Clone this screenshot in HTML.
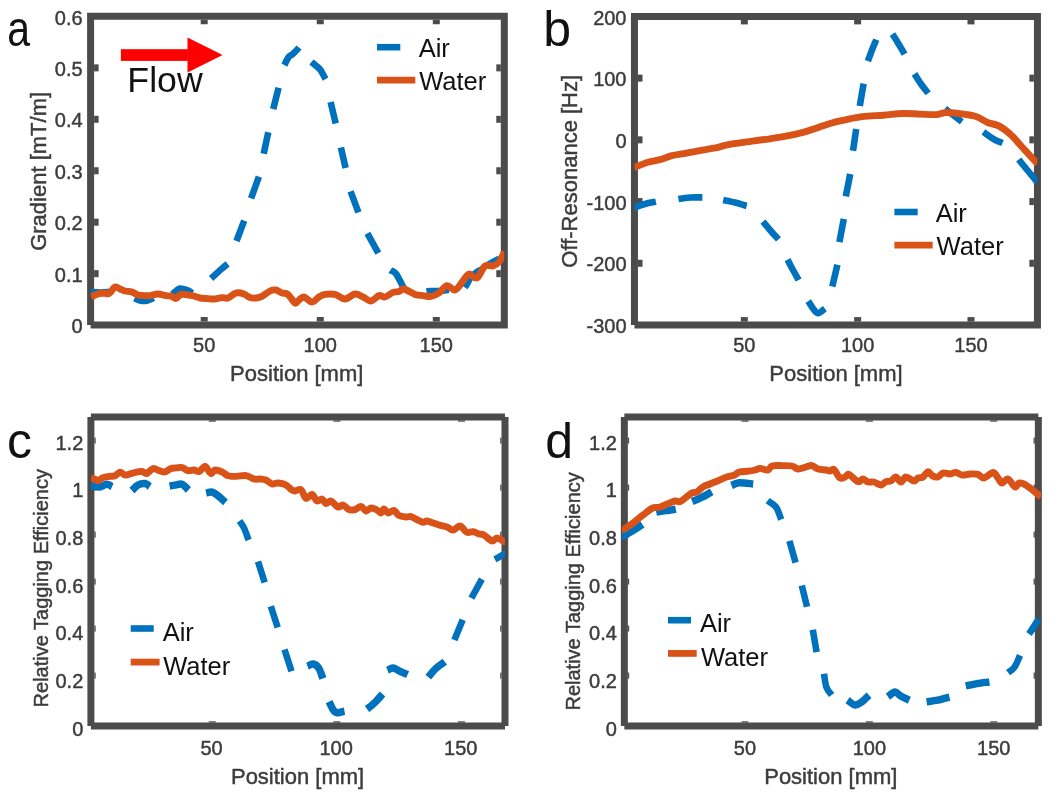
<!DOCTYPE html>
<html><head><meta charset="utf-8"><style>
html,body{margin:0;padding:0;background:#fff;}
svg{display:block;font-family:"Liberation Sans",sans-serif;will-change:transform;}
</style></head><body>
<svg width="1050" height="796" viewBox="0 0 1050 796">
<rect width="1050" height="796" fill="#fff"/>
<path d="M90.60,325.00 L90.60,16.25 L504.30,16.25 L504.30,325.00 L90.60,325.00" fill="none" stroke="#4b4b4b" stroke-width="7" stroke-linejoin="miter" stroke-linecap="butt"/>
<rect x="94.10" y="270.15" width="4.5" height="7" fill="#4b4b4b"/>
<rect x="496.30" y="270.15" width="4.5" height="7" fill="#4b4b4b"/>
<rect x="94.10" y="218.70" width="4.5" height="7" fill="#4b4b4b"/>
<rect x="496.30" y="218.70" width="4.5" height="7" fill="#4b4b4b"/>
<rect x="94.10" y="167.25" width="4.5" height="7" fill="#4b4b4b"/>
<rect x="496.30" y="167.25" width="4.5" height="7" fill="#4b4b4b"/>
<rect x="94.10" y="115.80" width="4.5" height="7" fill="#4b4b4b"/>
<rect x="496.30" y="115.80" width="4.5" height="7" fill="#4b4b4b"/>
<rect x="94.10" y="64.35" width="4.5" height="7" fill="#4b4b4b"/>
<rect x="496.30" y="64.35" width="4.5" height="7" fill="#4b4b4b"/>
<rect x="200.70" y="19.75" width="7" height="4.5" fill="#4b4b4b"/>
<rect x="200.70" y="317.00" width="7" height="4.5" fill="#4b4b4b"/>
<rect x="316.75" y="19.75" width="7" height="4.5" fill="#4b4b4b"/>
<rect x="316.75" y="317.00" width="7" height="4.5" fill="#4b4b4b"/>
<rect x="432.80" y="19.75" width="7" height="4.5" fill="#4b4b4b"/>
<rect x="432.80" y="317.00" width="7" height="4.5" fill="#4b4b4b"/>
<clipPath id="c1"><rect x="90.60" y="16.25" width="413.70" height="308.75"/></clipPath><g clip-path="url(#c1)">
<path d="M90.5,292.0 C92.1,292.1 96.8,292.5 100.0,292.5 C103.2,292.5 107.9,292.1 110.0,292.0 C112.1,291.9 112.1,291.8 112.5,291.8 M134.5,298.3 C135.4,298.7 138.3,300.1 140.0,300.5 C141.7,300.9 143.3,301.2 145.0,301.0 C146.7,300.8 148.6,300.0 150.0,299.5 C151.4,299.0 152.9,298.1 153.4,297.8 M172.1,294.3 C172.8,293.8 174.7,292.0 176.0,291.0 C177.3,290.0 178.5,288.8 180.0,288.5 C181.5,288.2 183.5,289.1 185.0,289.5 C186.5,289.9 187.8,290.4 189.0,291.0 C190.2,291.6 191.8,292.9 192.4,293.3 M211.1,278.5 C212.8,277.0 218.3,271.8 221.0,269.4 C223.7,267.0 226.5,264.8 227.6,263.9 M236.5,241.0 L244.2,220.7 M251.1,198.3 L258.9,176.7 M263.7,153.8 L268.3,132.3 M273.2,109.1 L278.6,87.7 M284.4,65.1 C285.1,63.8 287.1,59.0 288.6,57.1 C290.1,55.2 291.5,55.2 293.2,53.6 C294.9,52.0 298.1,48.6 299.0,47.5 M311.4,61.9 C312.7,63.0 317.6,67.0 319.3,68.7 C321.0,70.4 320.8,70.5 321.8,72.2 C322.8,73.9 324.9,78.0 325.5,79.1 M330.6,102.1 L335.7,123.4 M340.9,147.5 L345.6,168.0 M350.6,191.4 L358.4,212.3 M367.4,233.4 L378.3,253.1 M390.3,270.2 C391.2,270.8 393.9,271.1 395.9,273.6 C397.9,276.1 400.8,282.6 402.2,285.1 C403.6,287.6 403.9,287.9 404.3,288.4 M426.5,291.6 C427.1,291.5 427.8,291.1 430.0,291.0 C432.2,290.9 436.8,291.2 440.0,291.0 C443.2,290.8 447.5,289.9 449.0,289.7 M464.7,287.4 C465.1,286.8 466.0,285.7 467.0,284.0 C468.0,282.3 469.3,279.0 471.0,277.0 C472.7,275.0 474.9,273.4 477.0,272.0 C479.1,270.6 482.4,269.3 483.4,268.8 M487.6,265.3 C488.6,264.6 492.0,262.6 494.0,261.5 C496.0,260.4 498.5,259.2 499.4,258.8" fill="none" stroke="#0072bd" stroke-width="6.6" stroke-linejoin="round" stroke-linecap="butt"/>
<path d="M91.0,297.0 C91.2,296.9 90.8,297.1 92.0,296.6 C93.2,296.1 96.0,294.6 98.0,294.0 C100.0,293.4 102.2,293.1 104.0,293.0 C105.8,292.9 107.2,294.6 109.0,293.6 C110.8,292.6 113.2,287.8 115.0,287.0 C116.8,286.2 118.3,288.3 120.0,289.0 C121.7,289.7 123.0,290.5 125.0,291.0 C127.0,291.5 129.8,291.3 132.0,292.0 C134.2,292.7 136.0,294.4 138.0,295.0 C140.0,295.6 142.0,295.5 144.0,295.6 C146.0,295.7 147.7,295.9 150.0,295.6 C152.3,295.3 155.3,294.0 158.0,294.0 C160.7,294.0 163.7,295.2 166.0,295.6 C168.3,296.0 170.3,295.9 172.0,296.4 C173.7,296.9 174.5,298.7 176.0,298.4 C177.5,298.1 179.0,295.0 181.0,294.4 C183.0,293.8 185.8,294.7 188.0,295.0 C190.2,295.3 192.0,295.5 194.0,296.0 C196.0,296.5 197.7,297.6 200.0,298.0 C202.3,298.4 205.7,298.4 208.0,298.6 C210.3,298.8 211.7,299.2 214.0,299.0 C216.3,298.8 219.7,297.8 222.0,297.6 C224.3,297.4 225.7,298.8 228.0,298.0 C230.3,297.2 233.3,293.7 236.0,293.0 C238.7,292.3 241.7,293.2 244.0,294.0 C246.3,294.8 248.0,296.9 250.0,297.6 C252.0,298.3 254.0,298.2 256.0,298.0 C258.0,297.8 259.7,297.6 262.0,296.4 C264.3,295.2 267.7,292.1 270.0,291.0 C272.3,289.9 274.0,289.7 276.0,290.0 C278.0,290.3 280.0,292.3 282.0,293.0 C284.0,293.7 285.8,292.7 288.0,294.4 C290.2,296.1 293.2,302.1 295.0,303.0 C296.8,303.9 297.5,301.0 299.0,300.0 C300.5,299.0 301.8,296.7 304.0,297.0 C306.2,297.3 309.5,302.0 312.0,302.0 C314.5,302.0 316.8,298.3 319.0,297.0 C321.2,295.7 322.3,294.8 325.0,294.4 C327.7,294.0 331.7,293.6 335.0,294.4 C338.3,295.2 341.7,299.1 345.0,299.0 C348.3,298.9 352.0,294.3 355.0,294.0 C358.0,293.7 360.3,295.8 363.0,297.0 C365.7,298.2 368.3,301.2 371.0,301.0 C373.7,300.8 376.7,296.3 379.0,295.6 C381.3,294.9 382.7,297.5 385.0,297.0 C387.3,296.5 390.7,293.3 393.0,292.4 C395.3,291.5 397.2,292.2 399.0,291.6 C400.8,291.0 401.3,288.5 404.0,289.0 C406.7,289.5 411.8,293.3 415.0,294.4 C418.2,295.5 420.3,295.3 423.0,295.6 C425.7,295.9 428.3,296.8 431.0,296.4 C433.7,296.0 436.3,294.8 439.0,293.0 C441.7,291.2 444.3,286.1 447.0,285.6 C449.7,285.1 452.3,290.8 455.0,290.0 C457.7,289.2 460.7,283.7 463.0,281.0 C465.3,278.3 466.7,274.5 469.0,274.0 C471.3,273.5 474.3,279.3 477.0,278.0 C479.7,276.7 482.3,268.0 485.0,266.0 C487.7,264.0 490.7,266.7 493.0,266.0 C495.3,265.3 497.3,263.8 499.0,262.0 C500.7,260.2 502.0,256.7 503.0,255.0 C504.0,253.3 504.7,252.5 505.0,252.0" fill="none" stroke="#d95319" stroke-width="6.9" stroke-linejoin="round" stroke-linecap="butt"/>
</g>
<text x="82.60" y="333.20" font-size="20" fill="#3c3c3c" text-anchor="end" stroke="#3c3c3c" stroke-width="0.45">0</text>
<text x="82.60" y="281.75" font-size="20" fill="#3c3c3c" text-anchor="end" stroke="#3c3c3c" stroke-width="0.45">0.1</text>
<text x="82.60" y="230.30" font-size="20" fill="#3c3c3c" text-anchor="end" stroke="#3c3c3c" stroke-width="0.45">0.2</text>
<text x="82.60" y="178.85" font-size="20" fill="#3c3c3c" text-anchor="end" stroke="#3c3c3c" stroke-width="0.45">0.3</text>
<text x="82.60" y="127.40" font-size="20" fill="#3c3c3c" text-anchor="end" stroke="#3c3c3c" stroke-width="0.45">0.4</text>
<text x="82.60" y="75.95" font-size="20" fill="#3c3c3c" text-anchor="end" stroke="#3c3c3c" stroke-width="0.45">0.5</text>
<text x="82.60" y="24.50" font-size="20" fill="#3c3c3c" text-anchor="end" stroke="#3c3c3c" stroke-width="0.45">0.6</text>
<text x="204.20" y="352.20" font-size="20" fill="#3c3c3c" text-anchor="middle" stroke="#3c3c3c" stroke-width="0.45">50</text>
<text x="320.25" y="352.20" font-size="20" fill="#3c3c3c" text-anchor="middle" stroke="#3c3c3c" stroke-width="0.45">100</text>
<text x="436.30" y="352.20" font-size="20" fill="#3c3c3c" text-anchor="middle" stroke="#3c3c3c" stroke-width="0.45">150</text>
<text x="296.75" y="380.70" font-size="22" fill="#3c3c3c" text-anchor="middle" stroke="#3c3c3c" stroke-width="0.45">Position [mm]</text>
<text transform="translate(45.60,171.40) rotate(-90)" x="0" y="0" font-size="22" fill="#3c3c3c" stroke="#3c3c3c" stroke-width="0.45" text-anchor="middle">Gradient [mT/m]</text>
<path d="M377.0,47.2 L400.3,47.2" fill="none" stroke="#0072bd" stroke-width="6.6" stroke-linejoin="round" stroke-linecap="butt"/>
<path d="M377.0,80.2 L415.3,80.2" fill="none" stroke="#d95319" stroke-width="6.8" stroke-linejoin="round" stroke-linecap="butt"/>
<text x="418.65" y="57.00" font-size="25.5" fill="#111" text-anchor="start" >Air</text>
<text x="419.20" y="90.00" font-size="25.5" fill="#111" text-anchor="start" >Water</text>
<rect x="120.9" y="49.2" width="67" height="11.7" fill="#ff0000"/>
<polygon points="187.5,37.4 187.5,72.5 222.6,54.9" fill="#ff0000"/>
<text x="127.37" y="92.30" font-size="35.7" fill="#111" text-anchor="start" >Flow</text>
<text transform="translate(7.3,45.5) scale(0.82,1)" x="0" y="0" font-size="50" fill="#111">a</text>
<path d="M634.45,325.10 L634.45,16.40 L1037.45,16.40 L1037.45,325.10 L634.45,325.10" fill="none" stroke="#4b4b4b" stroke-width="7" stroke-linejoin="miter" stroke-linecap="butt"/>
<rect x="638.00" y="74.62" width="4.5" height="7" fill="#4b4b4b"/>
<rect x="1029.40" y="74.62" width="4.5" height="7" fill="#4b4b4b"/>
<rect x="638.00" y="136.34" width="4.5" height="7" fill="#4b4b4b"/>
<rect x="1029.40" y="136.34" width="4.5" height="7" fill="#4b4b4b"/>
<rect x="638.00" y="198.06" width="4.5" height="7" fill="#4b4b4b"/>
<rect x="1029.40" y="198.06" width="4.5" height="7" fill="#4b4b4b"/>
<rect x="638.00" y="259.78" width="4.5" height="7" fill="#4b4b4b"/>
<rect x="1029.40" y="259.78" width="4.5" height="7" fill="#4b4b4b"/>
<rect x="740.83" y="19.90" width="7" height="4.5" fill="#4b4b4b"/>
<rect x="740.83" y="317.10" width="7" height="4.5" fill="#4b4b4b"/>
<rect x="854.15" y="19.90" width="7" height="4.5" fill="#4b4b4b"/>
<rect x="854.15" y="317.10" width="7" height="4.5" fill="#4b4b4b"/>
<rect x="967.48" y="19.90" width="7" height="4.5" fill="#4b4b4b"/>
<rect x="967.48" y="317.10" width="7" height="4.5" fill="#4b4b4b"/>
<clipPath id="c2"><rect x="634.45" y="16.40" width="403.00" height="308.70"/></clipPath><g clip-path="url(#c2)">
<path d="M633.5,207.8 C635.4,207.1 641.3,205.0 645.0,204.0 C648.7,203.0 654.1,202.0 655.9,201.6 M678.4,199.0 C680.3,198.7 686.0,197.8 690.0,197.5 C694.0,197.2 700.3,197.4 702.4,197.4 M723.2,200.1 C725.2,200.5 731.1,201.5 735.0,202.5 C738.9,203.5 744.7,205.5 746.7,206.0 M762.9,221.6 C764.1,223.0 767.4,227.0 770.0,230.0 C772.6,233.0 777.1,237.8 778.5,239.4 M787.6,259.6 C788.5,261.3 791.1,266.6 793.0,270.0 C794.9,273.4 797.8,278.4 798.7,280.0 M808.2,301.1 C809.0,302.3 811.4,306.5 813.0,308.5 C814.6,310.5 816.1,313.2 818.1,313.2 C820.1,313.2 823.8,309.4 824.9,308.6 M832.3,286.6 L837.4,264.7 M839.4,242.2 L843.8,218.8 M845.8,196.4 L850.2,174.0 M853.0,150.8 L856.2,128.9 M859.8,106.0 L863.6,83.6 M867.9,61.2 C868.6,59.3 870.6,53.6 872.0,50.0 C873.4,46.4 875.6,41.4 876.3,39.6 M892.4,34.2 C893.4,35.6 896.0,39.7 898.0,43.0 C900.0,46.3 903.5,52.3 904.6,54.1 M914.5,73.9 C915.6,75.6 918.7,80.8 921.0,84.0 C923.3,87.2 927.0,91.7 928.2,93.3 M945.0,108.4 C946.3,109.5 950.2,112.8 953.0,115.0 C955.8,117.2 960.3,120.7 961.8,121.8 M983.4,131.9 C985.2,133.2 991.3,137.8 994.5,139.6 C997.7,141.4 1001.1,142.4 1002.5,143.0 M1018.7,159.5 C1019.9,161.0 1023.6,165.6 1026.0,168.5 C1028.4,171.4 1031.1,174.7 1033.0,177.0 C1034.9,179.3 1036.6,181.5 1037.3,182.4" fill="none" stroke="#0072bd" stroke-width="6.6" stroke-linejoin="round" stroke-linecap="butt"/>
<path d="M634.0,167.4 C634.3,167.3 633.7,167.7 636.0,166.8 C638.3,165.9 644.0,163.4 648.0,162.2 C652.0,161.0 656.0,160.7 660.0,159.6 C664.0,158.5 668.0,156.6 672.0,155.6 C676.0,154.6 679.7,154.4 684.0,153.6 C688.3,152.8 693.0,151.7 698.0,150.8 C703.0,149.9 709.3,149.1 714.0,148.2 C718.7,147.3 722.0,146.0 726.0,145.2 C730.0,144.4 733.3,143.9 738.0,143.2 C742.7,142.5 748.7,141.5 754.0,140.8 C759.3,140.1 764.7,139.6 770.0,138.8 C775.3,138.0 780.3,137.3 786.0,136.2 C791.7,135.1 798.7,133.6 804.0,132.2 C809.3,130.8 813.7,129.0 818.0,127.6 C822.3,126.1 825.5,124.8 830.0,123.5 C834.5,122.2 839.7,121.0 845.0,119.9 C850.3,118.8 855.6,117.5 862.0,116.7 C868.4,115.9 876.6,115.7 883.4,115.2 C890.2,114.7 896.5,113.7 902.6,113.5 C908.7,113.3 914.0,113.9 919.7,114.1 C925.4,114.3 932.5,114.8 936.8,114.6 C941.1,114.3 941.8,112.8 945.4,112.6 C949.0,112.4 953.2,112.9 958.2,113.5 C963.2,114.1 970.3,114.8 975.3,116.3 C980.3,117.8 984.2,121.1 988.1,122.7 C992.0,124.3 994.9,123.8 998.8,125.9 C1002.7,128.0 1007.7,131.9 1011.6,135.5 C1015.5,139.1 1018.4,142.9 1022.3,147.2 C1026.2,151.5 1032.6,158.3 1035.1,161.1 C1037.6,163.8 1037.1,163.3 1037.5,163.7" fill="none" stroke="#d95319" stroke-width="6.9" stroke-linejoin="round" stroke-linecap="butt"/>
</g>
<text x="626.50" y="24.50" font-size="20" fill="#3c3c3c" text-anchor="end" stroke="#3c3c3c" stroke-width="0.45">200</text>
<text x="626.50" y="86.22" font-size="20" fill="#3c3c3c" text-anchor="end" stroke="#3c3c3c" stroke-width="0.45">100</text>
<text x="626.50" y="147.94" font-size="20" fill="#3c3c3c" text-anchor="end" stroke="#3c3c3c" stroke-width="0.45">0</text>
<text x="626.50" y="209.66" font-size="20" fill="#3c3c3c" text-anchor="end" stroke="#3c3c3c" stroke-width="0.45">-100</text>
<text x="626.50" y="271.38" font-size="20" fill="#3c3c3c" text-anchor="end" stroke="#3c3c3c" stroke-width="0.45">-200</text>
<text x="626.50" y="333.10" font-size="20" fill="#3c3c3c" text-anchor="end" stroke="#3c3c3c" stroke-width="0.45">-300</text>
<text x="744.33" y="352.20" font-size="20" fill="#3c3c3c" text-anchor="middle" stroke="#3c3c3c" stroke-width="0.45">50</text>
<text x="857.65" y="352.20" font-size="20" fill="#3c3c3c" text-anchor="middle" stroke="#3c3c3c" stroke-width="0.45">100</text>
<text x="970.98" y="352.20" font-size="20" fill="#3c3c3c" text-anchor="middle" stroke="#3c3c3c" stroke-width="0.45">150</text>
<text x="836.00" y="380.70" font-size="22" fill="#3c3c3c" text-anchor="middle" stroke="#3c3c3c" stroke-width="0.45">Position [mm]</text>
<text transform="translate(576.90,171.30) rotate(-90)" x="0" y="0" font-size="22" fill="#3c3c3c" stroke="#3c3c3c" stroke-width="0.45" text-anchor="middle">Off-Resonance [Hz]</text>
<path d="M894.4,212.0 L917.7,212.0" fill="none" stroke="#0072bd" stroke-width="6.6" stroke-linejoin="round" stroke-linecap="butt"/>
<path d="M894.4,245.2 L932.7,245.2" fill="none" stroke="#d95319" stroke-width="6.8" stroke-linejoin="round" stroke-linecap="butt"/>
<text x="935.65" y="222.00" font-size="25.5" fill="#111" text-anchor="start" >Air</text>
<text x="936.60" y="255.00" font-size="25.5" fill="#111" text-anchor="start" >Water</text>
<text x="543.2" y="45.9" font-size="50" fill="#111">b</text>
<line x1="90.90" y1="416.90" x2="505.00" y2="416.90" stroke="#4b4b4b" stroke-width="7" stroke-linecap="butt"/>
<line x1="90.90" y1="726.10" x2="505.00" y2="726.10" stroke="#4b4b4b" stroke-width="7" stroke-linecap="butt"/>
<line x1="90.90" y1="416.90" x2="90.90" y2="726.10" stroke="#4b4b4b" stroke-width="7" stroke-linecap="butt"/>
<line x1="505.00" y1="416.90" x2="505.00" y2="726.10" stroke="#4b4b4b" stroke-width="7" stroke-linecap="butt"/>
<rect x="94.40" y="437.60" width="1.3" height="6" fill="#4b4b4b"/>
<rect x="500.20" y="437.60" width="1.3" height="6" fill="#4b4b4b"/>
<rect x="94.40" y="484.60" width="1.3" height="6" fill="#4b4b4b"/>
<rect x="500.20" y="484.60" width="1.3" height="6" fill="#4b4b4b"/>
<rect x="94.40" y="531.60" width="1.3" height="6" fill="#4b4b4b"/>
<rect x="500.20" y="531.60" width="1.3" height="6" fill="#4b4b4b"/>
<rect x="94.40" y="578.60" width="1.3" height="6" fill="#4b4b4b"/>
<rect x="500.20" y="578.60" width="1.3" height="6" fill="#4b4b4b"/>
<rect x="94.40" y="625.60" width="1.3" height="6" fill="#4b4b4b"/>
<rect x="500.20" y="625.60" width="1.3" height="6" fill="#4b4b4b"/>
<rect x="94.40" y="672.60" width="1.3" height="6" fill="#4b4b4b"/>
<rect x="500.20" y="672.60" width="1.3" height="6" fill="#4b4b4b"/>
<rect x="208.80" y="420.40" width="7" height="1.3" fill="#4b4b4b"/>
<rect x="208.80" y="721.30" width="7" height="1.3" fill="#4b4b4b"/>
<rect x="333.40" y="420.40" width="7" height="1.3" fill="#4b4b4b"/>
<rect x="333.40" y="721.30" width="7" height="1.3" fill="#4b4b4b"/>
<rect x="458.00" y="420.40" width="7" height="1.3" fill="#4b4b4b"/>
<rect x="458.00" y="721.30" width="7" height="1.3" fill="#4b4b4b"/>
<clipPath id="c3"><rect x="90.90" y="416.90" width="414.10" height="309.20"/></clipPath><g clip-path="url(#c3)">
<path d="M90.4,485.6 C91.9,485.9 96.7,487.3 99.4,487.1 C102.1,486.9 104.5,484.4 106.6,484.3 C108.7,484.2 111.2,486.2 112.1,486.6 M131.9,490.6 C132.9,489.7 135.8,486.2 138.0,485.0 C140.2,483.8 143.1,483.3 145.1,483.5 C147.1,483.7 149.0,486.0 149.8,486.5 M169.6,486.1 C170.8,485.9 174.5,485.1 176.6,484.8 C178.7,484.5 180.3,483.4 182.3,484.3 C184.3,485.2 187.4,489.0 188.4,489.9 M206.1,493.0 C207.1,492.8 210.3,491.6 212.3,492.1 C214.3,492.6 215.8,494.0 218.0,495.7 C220.2,497.4 224.2,501.3 225.5,502.4 M307.5,666.2 C308.5,665.8 311.4,663.7 313.3,664.0 C315.2,664.3 317.1,665.6 318.7,668.0 C320.3,670.4 322.2,676.7 322.9,678.5 M329.1,701.6 C329.8,703.0 331.9,708.1 333.3,710.0 C334.7,711.9 335.4,712.5 337.3,712.7 C339.2,712.9 343.3,711.4 344.5,711.2 M367.0,709.0 C367.7,708.5 369.4,707.4 371.0,706.0 C372.6,704.6 374.7,702.7 376.6,700.7 C378.5,698.7 381.6,695.1 382.6,694.0 M387.5,670.2 C388.5,669.8 391.2,667.8 393.3,668.0 C395.4,668.2 397.6,670.2 400.0,671.3 C402.4,672.4 406.3,674.1 407.6,674.7 M428.3,677.2 C429.5,675.8 432.6,671.5 435.4,668.9 C438.2,666.3 443.2,663.0 444.8,661.8" fill="none" stroke="#0072bd" stroke-width="7.4" stroke-linejoin="round" stroke-linecap="butt"/>
<path d="M239.6,520.8 C240.4,522.0 242.6,525.0 244.1,528.2 C245.6,531.4 247.8,538.0 248.6,540.0 M258.0,561.6 L264.7,582.4 M270.8,606.3 L277.7,627.6 M284.5,649.5 L291.5,671.2 M454.4,640.0 L462.7,619.8 M471.4,598.1 L481.9,579.2 M494.9,559.4 C496.3,558.7 501.3,555.7 503.2,554.7 C505.1,553.7 505.9,553.5 506.5,553.3" fill="none" stroke="#0072bd" stroke-width="6.6" stroke-linejoin="round" stroke-linecap="butt"/>
<path d="M90.9,477.9 C91.6,478.1 93.8,478.8 95.1,479.3 C96.4,479.8 97.5,480.9 98.7,480.7 C99.9,480.5 100.5,478.6 102.3,477.9 C104.1,477.2 107.3,476.8 109.4,476.4 C111.5,476.0 113.3,476.4 115.1,475.7 C116.9,475.0 118.4,472.2 120.1,472.1 C121.8,472.0 123.3,474.8 125.1,475.0 C126.9,475.2 129.0,474.1 130.9,473.6 C132.8,473.1 134.7,472.5 136.6,472.1 C138.5,471.7 140.6,471.1 142.3,471.4 C144.0,471.6 144.8,474.1 146.6,473.6 C148.4,473.1 150.9,469.1 153.0,468.6 C155.1,468.1 157.4,470.1 159.4,470.7 C161.4,471.2 163.2,472.2 165.1,471.9 C167.0,471.5 169.0,469.3 170.9,468.6 C172.8,467.9 174.7,468.1 176.6,467.9 C178.5,467.7 180.4,467.1 182.3,467.6 C184.2,468.1 186.1,470.3 188.0,470.7 C189.9,471.1 191.8,469.9 193.7,470.0 C195.6,470.1 197.5,472.0 199.4,471.4 C201.3,470.8 203.2,466.0 205.1,466.4 C207.0,466.8 209.2,473.0 210.9,473.6 C212.6,474.2 213.2,470.2 215.1,470.0 C217.0,469.8 220.2,471.2 222.3,472.1 C224.5,473.1 225.6,475.0 228.0,475.7 C230.4,476.4 233.6,476.4 236.6,476.4 C239.6,476.4 243.1,475.2 246.0,475.6 C248.9,476.0 251.7,478.4 254.0,479.0 C256.3,479.6 258.0,478.8 260.0,479.0 C262.0,479.2 264.0,479.2 266.0,480.0 C268.0,480.8 270.0,483.5 272.0,484.0 C274.0,484.5 275.7,482.8 278.0,483.0 C280.3,483.2 283.7,483.8 286.0,485.0 C288.3,486.2 290.5,489.0 292.0,490.0 C293.5,491.0 293.5,491.1 295.0,491.0 C296.5,490.9 299.2,488.4 301.0,489.6 C302.8,490.8 304.2,497.6 306.0,498.4 C307.8,499.2 310.2,494.0 312.0,494.4 C313.8,494.8 315.3,500.2 317.0,501.0 C318.7,501.8 320.5,498.6 322.0,499.0 C323.5,499.4 324.5,503.3 326.0,503.6 C327.5,503.9 329.0,500.4 331.0,501.0 C333.0,501.6 336.0,506.3 338.0,507.0 C340.0,507.7 341.2,504.6 343.0,505.0 C344.8,505.4 347.0,508.8 349.0,509.6 C351.0,510.4 353.0,510.1 355.0,509.6 C357.0,509.1 359.2,506.2 361.0,506.4 C362.8,506.6 364.3,510.7 366.0,511.0 C367.7,511.3 369.2,508.2 371.0,508.0 C372.8,507.8 375.3,509.2 377.0,510.0 C378.7,510.8 379.8,513.2 381.0,513.0 C382.2,512.8 382.8,509.0 384.0,509.0 C385.2,509.0 386.3,512.8 388.0,513.0 C389.7,513.2 392.2,510.0 394.0,510.4 C395.8,510.8 397.0,514.5 399.0,515.6 C401.0,516.7 404.0,516.8 406.0,517.0 C408.0,517.2 409.2,516.2 411.0,516.6 C412.8,517.0 415.0,518.6 417.0,519.6 C419.0,520.6 421.3,522.2 423.0,522.4 C424.7,522.6 425.3,520.9 427.0,521.0 C428.7,521.1 431.0,522.3 433.0,523.0 C435.0,523.7 436.7,524.3 439.0,525.0 C441.3,525.7 444.7,526.2 447.0,527.0 C449.3,527.8 450.8,530.2 453.0,530.0 C455.2,529.8 457.7,525.6 460.0,526.0 C462.3,526.4 464.8,531.5 467.0,532.4 C469.2,533.3 471.0,531.3 473.0,531.6 C475.0,531.9 477.2,533.4 479.0,534.0 C480.8,534.6 481.8,533.8 484.0,535.0 C486.2,536.2 489.8,540.5 492.0,541.0 C494.2,541.5 495.2,538.0 497.0,538.0 C498.8,538.0 501.5,540.3 503.0,541.0 C504.5,541.7 505.5,541.8 506.0,542.0" fill="none" stroke="#d95319" stroke-width="6.9" stroke-linejoin="round" stroke-linecap="butt"/>
</g>
<text x="83.30" y="735.70" font-size="20" fill="#3c3c3c" text-anchor="end" stroke="#3c3c3c" stroke-width="0.45">0</text>
<text x="83.30" y="688.04" font-size="20" fill="#3c3c3c" text-anchor="end" stroke="#3c3c3c" stroke-width="0.45">0.2</text>
<text x="83.30" y="640.38" font-size="20" fill="#3c3c3c" text-anchor="end" stroke="#3c3c3c" stroke-width="0.45">0.4</text>
<text x="83.30" y="592.72" font-size="20" fill="#3c3c3c" text-anchor="end" stroke="#3c3c3c" stroke-width="0.45">0.6</text>
<text x="83.30" y="545.06" font-size="20" fill="#3c3c3c" text-anchor="end" stroke="#3c3c3c" stroke-width="0.45">0.8</text>
<text x="83.30" y="497.40" font-size="20" fill="#3c3c3c" text-anchor="end" stroke="#3c3c3c" stroke-width="0.45">1</text>
<text x="83.30" y="449.74" font-size="20" fill="#3c3c3c" text-anchor="end" stroke="#3c3c3c" stroke-width="0.45">1.2</text>
<text x="211.60" y="754.80" font-size="20" fill="#3c3c3c" text-anchor="middle" stroke="#3c3c3c" stroke-width="0.45">50</text>
<text x="336.20" y="754.80" font-size="20" fill="#3c3c3c" text-anchor="middle" stroke="#3c3c3c" stroke-width="0.45">100</text>
<text x="460.80" y="754.80" font-size="20" fill="#3c3c3c" text-anchor="middle" stroke="#3c3c3c" stroke-width="0.45">150</text>
<text x="297.60" y="783.60" font-size="22" fill="#3c3c3c" text-anchor="middle" stroke="#3c3c3c" stroke-width="0.45">Position [mm]</text>
<text transform="translate(48.40,588.25) rotate(-90)" x="0" y="0" font-size="20" fill="#3c3c3c" stroke="#3c3c3c" stroke-width="0.45" text-anchor="middle">Relative Tagging Efficiency</text>
<path d="M130.7,628.5 L153.7,628.5" fill="none" stroke="#0072bd" stroke-width="6.6" stroke-linejoin="round" stroke-linecap="butt"/>
<path d="M130.7,662.1 L159.6,662.1" fill="none" stroke="#d95319" stroke-width="6.8" stroke-linejoin="round" stroke-linecap="butt"/>
<text x="162.65" y="641.30" font-size="25.5" fill="#111" text-anchor="start" >Air</text>
<text x="163.20" y="674.70" font-size="25.5" fill="#111" text-anchor="start" >Water</text>
<text x="6.9" y="458.4" font-size="50" fill="#111">c</text>
<line x1="624.35" y1="416.90" x2="1038.35" y2="416.90" stroke="#4b4b4b" stroke-width="7" stroke-linecap="butt"/>
<line x1="624.35" y1="726.10" x2="1038.35" y2="726.10" stroke="#4b4b4b" stroke-width="7" stroke-linecap="butt"/>
<line x1="624.35" y1="416.90" x2="624.35" y2="726.10" stroke="#4b4b4b" stroke-width="7" stroke-linecap="butt"/>
<line x1="1038.35" y1="416.90" x2="1038.35" y2="726.10" stroke="#4b4b4b" stroke-width="7" stroke-linecap="butt"/>
<rect x="627.85" y="437.60" width="1.3" height="6" fill="#4b4b4b"/>
<rect x="1033.55" y="437.60" width="1.3" height="6" fill="#4b4b4b"/>
<rect x="627.85" y="484.60" width="1.3" height="6" fill="#4b4b4b"/>
<rect x="1033.55" y="484.60" width="1.3" height="6" fill="#4b4b4b"/>
<rect x="627.85" y="531.60" width="1.3" height="6" fill="#4b4b4b"/>
<rect x="1033.55" y="531.60" width="1.3" height="6" fill="#4b4b4b"/>
<rect x="627.85" y="578.60" width="1.3" height="6" fill="#4b4b4b"/>
<rect x="1033.55" y="578.60" width="1.3" height="6" fill="#4b4b4b"/>
<rect x="627.85" y="625.60" width="1.3" height="6" fill="#4b4b4b"/>
<rect x="1033.55" y="625.60" width="1.3" height="6" fill="#4b4b4b"/>
<rect x="627.85" y="672.60" width="1.3" height="6" fill="#4b4b4b"/>
<rect x="1033.55" y="672.60" width="1.3" height="6" fill="#4b4b4b"/>
<rect x="741.50" y="420.40" width="7" height="1.3" fill="#4b4b4b"/>
<rect x="741.50" y="721.30" width="7" height="1.3" fill="#4b4b4b"/>
<rect x="865.90" y="420.40" width="7" height="1.3" fill="#4b4b4b"/>
<rect x="865.90" y="721.30" width="7" height="1.3" fill="#4b4b4b"/>
<rect x="990.20" y="420.40" width="7" height="1.3" fill="#4b4b4b"/>
<rect x="990.20" y="721.30" width="7" height="1.3" fill="#4b4b4b"/>
<clipPath id="c4"><rect x="621.80" y="416.90" width="419.20" height="309.20"/></clipPath><g clip-path="url(#c4)">
<path d="M621.1,537.2 C621.4,537.0 621.4,537.1 623.3,536.0 C625.2,534.9 629.5,532.6 632.7,530.7 C635.9,528.8 640.8,525.5 642.4,524.4 M656.2,512.1 C657.8,511.8 662.7,511.2 666.0,510.7 C669.3,510.2 674.2,509.5 675.8,509.2 M692.2,501.5 C693.9,500.8 698.8,498.9 702.0,497.3 C705.2,495.7 710.1,492.7 711.7,491.8 M731.5,485.5 C732.8,485.0 735.7,482.9 739.3,482.7 C742.9,482.5 750.9,483.8 753.2,484.0 M847.6,700.2 C848.8,701.0 852.6,704.7 855.0,705.0 C857.4,705.3 859.4,703.6 861.7,702.0 C864.0,700.4 867.8,696.3 869.1,695.2 M887.9,696.6 C889.1,695.8 892.9,692.1 895.0,692.0 C897.1,691.9 897.9,694.3 900.3,695.7 C902.7,697.1 907.9,699.5 909.4,700.2 M926.6,701.8 C928.5,701.5 933.9,701.0 937.7,700.2 C941.5,699.4 947.5,697.6 949.5,697.1 M965.8,686.0 C967.7,685.6 973.0,684.3 976.9,683.6 C980.8,682.9 987.3,682.3 989.4,682.0" fill="none" stroke="#0072bd" stroke-width="7.4" stroke-linejoin="round" stroke-linecap="butt"/>
<path d="M767.6,500.7 C769.0,501.8 773.7,503.9 776.0,507.0 C778.3,510.1 780.3,517.4 781.2,519.5 M789.4,540.9 L795.6,562.7 M801.8,585.5 L807.0,606.8 M812.8,629.7 L816.6,652.1 M824.0,673.8 C824.4,676.1 825.2,683.9 826.5,687.4 C827.8,690.9 830.7,693.7 831.6,695.0 M1008.1,672.6 C1009.2,671.7 1012.5,670.0 1014.5,667.1 C1016.5,664.2 1019.1,657.3 1020.0,655.3 M1029.0,634.0 C1029.9,632.7 1032.4,628.9 1034.0,626.4 C1035.6,623.9 1037.7,620.4 1038.5,619.2" fill="none" stroke="#0072bd" stroke-width="6.6" stroke-linejoin="round" stroke-linecap="butt"/>
<path d="M621.5,530.8 C621.8,530.6 622.1,530.3 623.3,529.5 C624.5,528.7 626.7,527.6 628.7,526.2 C630.7,524.8 632.9,523.1 635.3,521.2 C637.7,519.3 640.4,517.0 643.3,514.8 C646.2,512.6 650.0,509.2 652.7,508.0 C655.4,506.8 656.9,508.0 659.3,507.3 C661.7,506.6 664.6,505.1 667.3,504.0 C670.0,502.9 673.1,501.4 675.3,501.0 C677.5,500.6 678.0,502.6 680.7,501.3 C683.4,500.0 688.6,494.9 691.3,493.3 C694.0,491.8 694.7,493.1 696.7,492.0 C698.7,490.9 701.1,488.0 703.3,486.7 C705.5,485.4 707.5,485.0 710.0,484.0 C712.5,483.0 715.1,481.9 718.0,480.7 C720.9,479.5 724.6,477.6 727.3,476.7 C730.0,475.8 732.0,476.1 734.0,475.3 C736.0,474.5 737.1,472.7 739.3,472.0 C741.5,471.3 744.6,471.6 747.3,471.3 C750.0,471.0 753.2,470.5 755.3,470.0 C757.4,469.5 757.9,468.4 760.0,468.4 C762.1,468.4 766.0,470.4 768.0,470.0 C770.0,469.6 769.7,466.7 772.0,466.0 C774.3,465.3 778.7,465.6 782.0,465.6 C785.3,465.6 789.3,465.4 792.0,466.0 C794.7,466.6 795.7,468.8 798.0,469.0 C800.3,469.2 803.7,467.6 806.0,467.0 C808.3,466.4 810.0,465.3 812.0,465.6 C814.0,465.9 815.7,468.3 818.0,469.0 C820.3,469.7 824.0,469.7 826.0,470.0 C828.0,470.3 828.7,471.1 830.0,471.0 C831.3,470.9 832.3,468.4 834.0,469.6 C835.7,470.8 838.2,476.8 840.0,478.0 C841.8,479.2 843.5,477.6 845.0,477.0 C846.5,476.4 846.8,473.6 849.0,474.4 C851.2,475.2 855.7,480.8 858.0,481.6 C860.3,482.4 861.3,478.9 863.0,479.0 C864.7,479.1 866.2,481.5 868.0,482.0 C869.8,482.5 871.8,481.5 874.0,482.0 C876.2,482.5 879.0,485.1 881.0,485.0 C883.0,484.9 884.3,482.3 886.0,481.6 C887.7,480.9 889.3,481.8 891.0,481.0 C892.7,480.2 894.3,476.8 896.0,477.0 C897.7,477.2 899.3,482.0 901.0,482.0 C902.7,482.0 903.8,477.2 906.0,477.0 C908.2,476.8 912.0,480.8 914.0,481.0 C916.0,481.2 916.5,478.7 918.0,478.0 C919.5,477.3 921.3,478.1 923.0,477.0 C924.7,475.9 926.5,471.8 928.0,471.6 C929.5,471.4 930.3,474.7 932.0,475.6 C933.7,476.5 936.2,477.4 938.0,477.0 C939.8,476.6 941.0,473.5 943.0,473.0 C945.0,472.5 947.8,474.1 950.0,474.0 C952.2,473.9 954.0,472.2 956.0,472.4 C958.0,472.6 959.7,474.7 962.0,475.0 C964.3,475.3 967.3,474.1 970.0,474.0 C972.7,473.9 975.7,473.7 978.0,474.4 C980.3,475.1 981.5,478.3 984.0,478.0 C986.5,477.7 990.7,472.4 993.0,472.4 C995.3,472.4 996.5,476.2 998.0,478.0 C999.5,479.8 1000.3,482.8 1002.0,483.0 C1003.7,483.2 1005.8,478.3 1008.0,479.0 C1010.2,479.7 1013.2,486.3 1015.0,487.0 C1016.8,487.7 1017.5,483.5 1019.0,483.0 C1020.5,482.5 1022.2,483.2 1024.0,484.0 C1025.8,484.8 1027.7,486.2 1030.0,488.0 C1032.3,489.8 1036.2,493.0 1038.0,494.5 C1039.8,496.0 1040.3,496.6 1040.8,497.0" fill="none" stroke="#d95319" stroke-width="6.9" stroke-linejoin="round" stroke-linecap="butt"/>
</g>
<text x="616.90" y="735.70" font-size="20" fill="#3c3c3c" text-anchor="end" stroke="#3c3c3c" stroke-width="0.45">0</text>
<text x="616.90" y="688.04" font-size="20" fill="#3c3c3c" text-anchor="end" stroke="#3c3c3c" stroke-width="0.45">0.2</text>
<text x="616.90" y="640.38" font-size="20" fill="#3c3c3c" text-anchor="end" stroke="#3c3c3c" stroke-width="0.45">0.4</text>
<text x="616.90" y="592.72" font-size="20" fill="#3c3c3c" text-anchor="end" stroke="#3c3c3c" stroke-width="0.45">0.6</text>
<text x="616.90" y="545.06" font-size="20" fill="#3c3c3c" text-anchor="end" stroke="#3c3c3c" stroke-width="0.45">0.8</text>
<text x="616.90" y="497.40" font-size="20" fill="#3c3c3c" text-anchor="end" stroke="#3c3c3c" stroke-width="0.45">1</text>
<text x="616.90" y="449.74" font-size="20" fill="#3c3c3c" text-anchor="end" stroke="#3c3c3c" stroke-width="0.45">1.2</text>
<text x="744.98" y="754.80" font-size="20" fill="#3c3c3c" text-anchor="middle" stroke="#3c3c3c" stroke-width="0.45">50</text>
<text x="869.36" y="754.80" font-size="20" fill="#3c3c3c" text-anchor="middle" stroke="#3c3c3c" stroke-width="0.45">100</text>
<text x="993.74" y="754.80" font-size="20" fill="#3c3c3c" text-anchor="middle" stroke="#3c3c3c" stroke-width="0.45">150</text>
<text x="830.85" y="784.00" font-size="22" fill="#3c3c3c" text-anchor="middle" stroke="#3c3c3c" stroke-width="0.45">Position [mm]</text>
<text transform="translate(580.00,591.40) rotate(-90)" x="0" y="0" font-size="20" fill="#3c3c3c" stroke="#3c3c3c" stroke-width="0.45" text-anchor="middle">Relative Tagging Efficiency</text>
<path d="M668.0,620.2 L691.0,620.2" fill="none" stroke="#0072bd" stroke-width="6.6" stroke-linejoin="round" stroke-linecap="butt"/>
<path d="M668.0,653.4 L696.7,653.4" fill="none" stroke="#d95319" stroke-width="6.8" stroke-linejoin="round" stroke-linecap="butt"/>
<text x="699.95" y="632.40" font-size="25.5" fill="#111" text-anchor="start" >Air</text>
<text x="700.90" y="666.00" font-size="25.5" fill="#111" text-anchor="start" >Water</text>
<text x="545.2" y="457.6" font-size="50" fill="#111">d</text>
</svg>
</body></html>
